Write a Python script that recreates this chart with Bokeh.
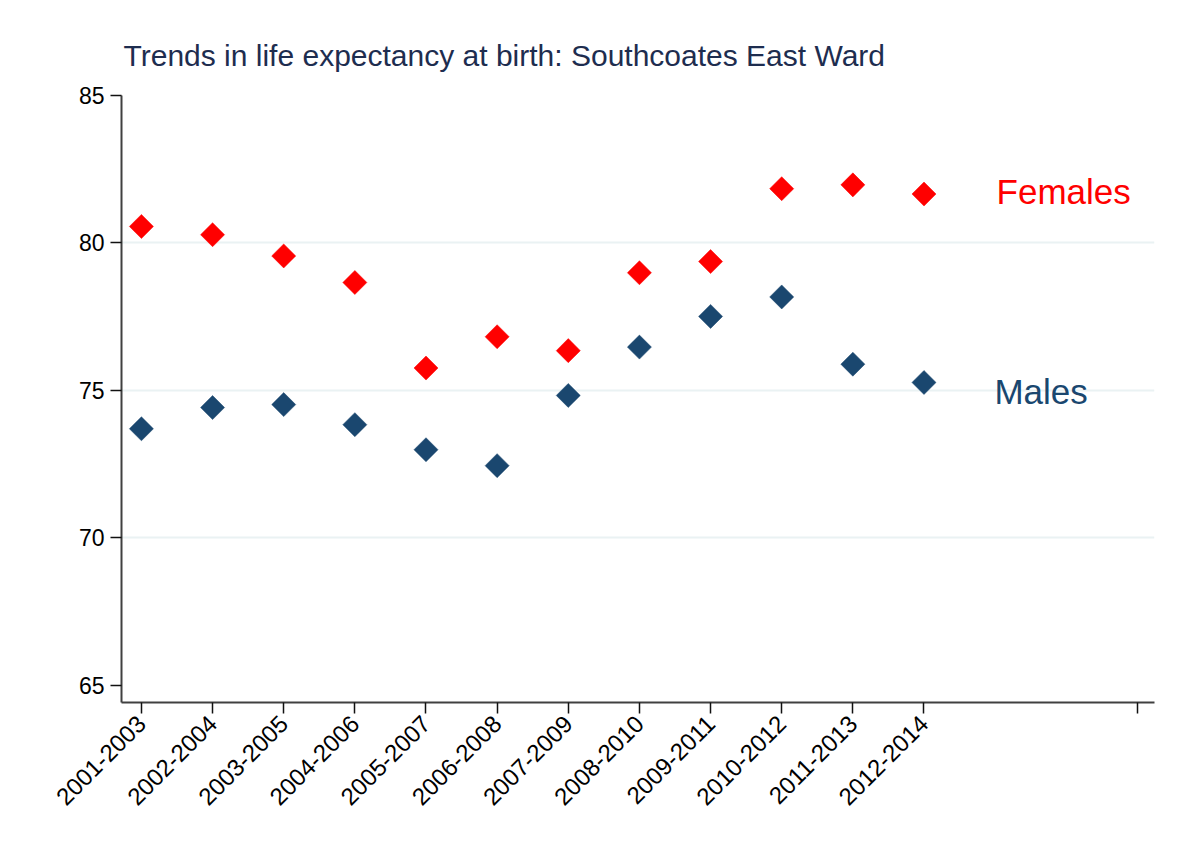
import math
from bokeh.plotting import figure
from bokeh.models import Range1d, FixedTicker, ColumnDataSource
from bokeh.core.properties import value
from bokeh.embed import file_html
from bokeh.resources import INLINE

periods = ["2001-2003", "2002-2004", "2003-2005", "2004-2006", "2005-2007", "2006-2008",
           "2007-2009", "2008-2010", "2009-2011", "2010-2012", "2011-2013", "2012-2014"]
females = [80.56, 80.28, 79.56, 78.66, 75.76, 76.82, 76.35, 78.99, 79.37, 81.84, 81.97, 81.66]
males = [73.70, 74.42, 74.52, 73.84, 72.99, 72.45, 74.83, 76.47, 77.51, 78.17, 75.89, 75.27]
y_ticks = [65, 70, 75, 80, 85]
grid_ticks = [70, 75, 80]

x = list(range(1, len(periods) + 1))
extra_tick = 15

FONT = "Liberation Sans"
RED = "#ff0000"
NAVY = "#1a476f"

p = figure(width=1171, height=851,
           x_range=Range1d(0.72, 15.24), y_range=Range1d(64.42, 85.0),
           output_backend="svg", toolbar_location=None,
           min_border_left=121, min_border_right=17, min_border_top=95, min_border_bottom=149)

p.outline_line_color = None
p.background_fill_color = "white"
p.border_fill_color = "white"

p.title.text = "Trends in life expectancy at birth: Southcoates East Ward"
p.title.text_font = FONT
p.title.text_font_size = "30px"
p.title.text_font_style = "normal"
p.title.text_color = "#1e2d4f"
p.title.align = "left"
p.title.offset = 2
p.title.standoff = 48

src_f = ColumnDataSource(dict(x=x, y=females))
src_m = ColumnDataSource(dict(x=x, y=males))
p.scatter("x", "y", source=src_f, marker="square", size=17, angle=math.pi / 4,
          fill_color=RED, line_color=RED, line_width=0.5)
p.scatter("x", "y", source=src_m, marker="square", size=17, angle=math.pi / 4,
          fill_color=NAVY, line_color=NAVY, line_width=0.5)

lab_x = len(periods) + 1.02
p.text(x=[lab_x], y=[81.76], text=["Females"], text_color=RED,
       text_font=value(FONT), text_font_size="35px", text_baseline="alphabetic")
p.text(x=[lab_x - 0.03], y=[74.96], text=["Males"], text_color=NAVY,
       text_font=value(FONT), text_font_size="35px", text_baseline="alphabetic")

# axes
p.xaxis.ticker = FixedTicker(ticks=x + [extra_tick])
overrides = {i + 1: lab for i, lab in enumerate(periods)}
overrides[extra_tick] = ""
p.xaxis.major_label_overrides = overrides
p.xaxis.major_label_orientation = math.pi / 4
p.yaxis.ticker = FixedTicker(ticks=y_ticks)

for ax in (p.xaxis[0], p.yaxis[0]):
    ax.axis_line_color = "#404040"
    ax.axis_line_width = 2
    ax.major_tick_line_color = "#111111"
    ax.major_tick_line_width = 1.5
    ax.major_tick_out = 11
    ax.major_tick_in = 0
    ax.minor_tick_line_color = None
    ax.major_label_text_font = FONT
    ax.major_label_text_color = "black"
    ax.major_label_standoff = 6
p.xaxis.major_label_text_font_size = "24px"
p.yaxis.major_label_text_font_size = "23px"

p.xgrid.grid_line_color = None
p.ygrid.ticker = FixedTicker(ticks=grid_ticks)
p.ygrid.grid_line_color = "#eaf2f3"
p.ygrid.grid_line_width = 2

open("out.html", "w").write(file_html(p, INLINE))
